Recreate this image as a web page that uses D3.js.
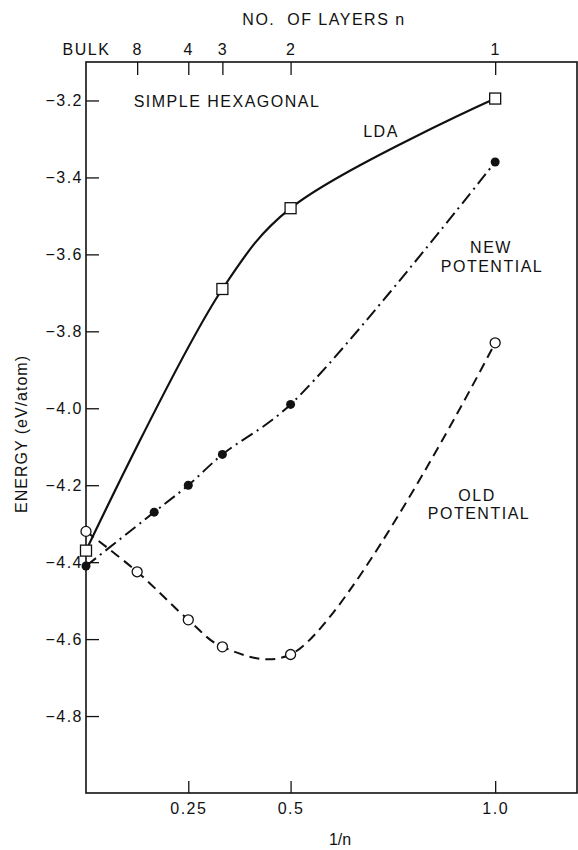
<!DOCTYPE html>
<html>
<head>
<meta charset="utf-8">
<script src="https://cdn.jsdelivr.net/npm/d3@7"></script>
<style>
  body { margin: 0; background: #fff; }
  text { font-family: "Liberation Sans", Arial, sans-serif; fill: #111; }
  .axis text { font-size: 16px; letter-spacing: 1.5px; }
  .axis line { stroke: #111; stroke-width: 1.3; }
  .axis path { display: none; }
</style>
</head>
<body>
<script>
// 1/n values and energies (eV/atom)
var ldaX = [0, 1/3, 1/2, 1];
var ldaY = [-4.37, -3.69, -3.48, -3.195];

var newX = [0, 1/6, 1/4, 1/3, 1/2, 1];
var newY = [-4.41, -4.27, -4.20, -4.12, -3.99, -3.36];

var oldX = [0, 1/8, 1/4, 1/3, 1/2, 1];
var oldY = [-4.32, -4.425, -4.55, -4.62, -4.64, -3.83];

// tick values and labels
var yTicks = [-3.2, -3.4, -3.6, -3.8, -4.0, -4.2, -4.4, -4.6, -4.8];
var bottomTicks = [0.25, 0.5, 1.0];
var bottomLabels = ["0.25", "0.5", "1.0"];
var topTicks = [0, 1/8, 1/4, 1/3, 1/2, 1];
var topLabels = ["BULK", "8", "4", "3", "2", "1"];

// plot frame in page pixels
var margin = {top: 62, right: 1, bottom: 57, left: 86},
    width = 578, height = 850,
    x0 = margin.left, x1 = width - margin.right,
    y0 = margin.top, y1 = height - margin.bottom;

var svg = d3.select("body").append("svg")
    .attr("width", width)
    .attr("height", height);

var x = d3.scaleLinear().domain([0, 1.2]).range([x0, x1]);
var y = d3.scaleLinear().domain([-5.0, -3.1]).range([y1, y0]);

// frame
svg.append("rect")
    .attr("x", x0).attr("y", y0)
    .attr("width", x1 - x0).attr("height", y1 - y0)
    .attr("fill", "none")
    .attr("stroke", "#111")
    .attr("stroke-width", 1.6);

// axes, ticks pointing inward
svg.append("g")
    .attr("class", "axis")
    .attr("transform", "translate(" + x0 + ",0)")
    .call(d3.axisLeft(y).tickValues(yTicks).tickSizeInner(-13).tickSizeOuter(0)
      .tickPadding(3).tickFormat(d3.format(".1f")));

svg.append("g")
    .attr("class", "axis")
    .attr("transform", "translate(0," + y1 + ")")
    .call(d3.axisBottom(x).tickValues(bottomTicks).tickSizeInner(-12).tickSizeOuter(0)
      .tickPadding(10).tickFormat(function(d, i) { return bottomLabels[i]; }));

var topAxis = svg.append("g")
    .attr("class", "axis")
    .attr("transform", "translate(0," + y0 + ")")
    .call(d3.axisTop(x).tickValues(topTicks).tickSizeInner(-13).tickSizeOuter(0)
      .tickPadding(7).tickFormat(function(d, i) { return topLabels[i]; }));
// no tick mark for bulk, it sits on the frame
topAxis.selectAll(".tick line").filter(function(d) { return d === 0; }).remove();

// axis titles
svg.append("text")
    .attr("x", 324).attr("y", 25)
    .attr("text-anchor", "middle")
    .style("font-size", "16px").style("letter-spacing", "1.5px")
    .attr("xml:space", "preserve")
    .text("NO.  OF LAYERS n");

svg.append("text")
    .attr("x", 340).attr("y", 845)
    .attr("text-anchor", "middle")
    .style("font-size", "16px")
    .text("1/n");

svg.append("text")
    .attr("transform", "translate(27,434) rotate(-90)")
    .attr("text-anchor", "middle")
    .style("font-size", "16px").style("letter-spacing", "1px")
    .text("ENERGY (eV/atom)");

// labels inside the plot
var labels = [
  {t: "SIMPLE HEXAGONAL", x: 227, y: 107},
  {t: "LDA", x: 381, y: 137},
  {t: "NEW", x: 491, y: 253},
  {t: "POTENTIAL", x: 492, y: 272},
  {t: "OLD", x: 477, y: 501},
  {t: "POTENTIAL", x: 479, y: 519}
];
svg.selectAll(".lbl")
    .data(labels)
  .enter().append("text")
    .attr("class", "lbl")
    .attr("x", function(d) { return d.x; })
    .attr("y", function(d) { return d.y; })
    .attr("text-anchor", "middle")
    .style("font-size", "16px").style("letter-spacing", "1.5px")
    .text(function(d) { return d.t; });

// curves
var line = d3.line()
    .x(function(d) { return x(d[0]); })
    .y(function(d) { return y(d[1]); })
    .curve(d3.curveCatmullRom.alpha(0.5));

function pairs(xs, ys) {
  return xs.map(function(v, i) { return [v, ys[i]]; });
}

svg.append("path")
    .attr("d", line(pairs(ldaX, ldaY)))
    .attr("fill", "none").attr("stroke", "#111").attr("stroke-width", 2.2);

svg.append("path")
    .attr("d", line(pairs(newX, newY)))
    .attr("fill", "none").attr("stroke", "#111").attr("stroke-width", 2)
    .attr("stroke-dasharray", "13,5,2,5");

svg.append("path")
    .attr("d", line(pairs(oldX, oldY)))
    .attr("fill", "none").attr("stroke", "#111").attr("stroke-width", 2)
    .attr("stroke-dasharray", "10,6");

// markers
svg.selectAll(".old")
    .data(pairs(oldX, oldY))
  .enter().append("circle")
    .attr("class", "old")
    .attr("cx", function(d) { return x(d[0]); })
    .attr("cy", function(d) { return y(d[1]); })
    .attr("r", 5)
    .attr("fill", "#fff").attr("stroke", "#111").attr("stroke-width", 1.3);

svg.selectAll(".lda")
    .data(pairs(ldaX, ldaY))
  .enter().append("rect")
    .attr("class", "lda")
    .attr("x", function(d) { return x(d[0]) - 5.5; })
    .attr("y", function(d) { return y(d[1]) - 5.5; })
    .attr("width", 11).attr("height", 11)
    .attr("fill", "#fff").attr("stroke", "#111").attr("stroke-width", 1.3);

svg.selectAll(".new")
    .data(pairs(newX, newY))
  .enter().append("circle")
    .attr("class", "new")
    .attr("cx", function(d) { return x(d[0]); })
    .attr("cy", function(d) { return y(d[1]); })
    .attr("r", 4.5)
    .attr("fill", "#111");
</script>
</body>
</html>
